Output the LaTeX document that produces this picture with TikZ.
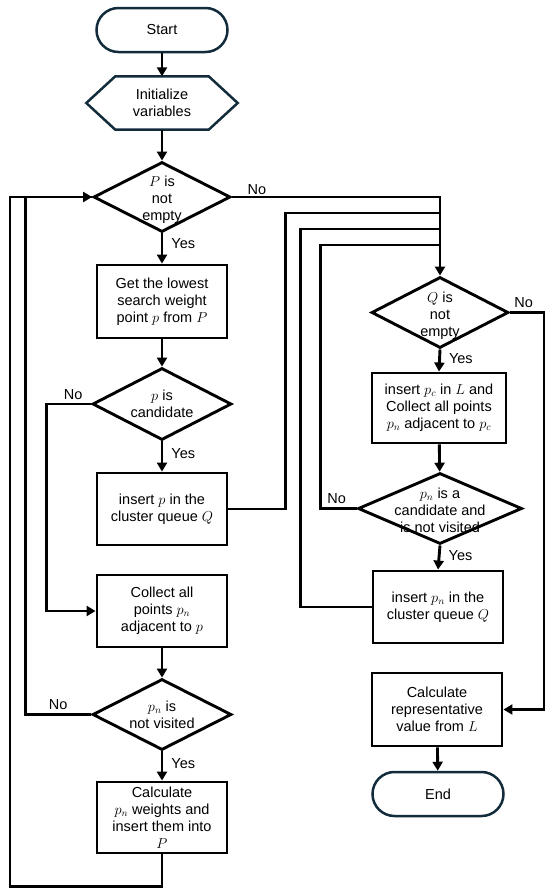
\documentclass[tikz,border=0pt]{standalone}
\usepackage{fontspec}
\setmainfont{Liberation Sans}
\usetikzlibrary{arrows.meta,shapes.geometric,calc}
\definecolor{navy}{RGB}{18,44,60}
\begin{document}
\begin{tikzpicture}[x=1pt,y=-1pt,
  every node/.style={font=\fontsize{14.5}{17}\selectfont, align=center},
  ln/.style={line width=2.9pt, line join=miter},
  arr/.style={ln, -{Triangle[length=9pt,width=10pt]}},
  proc/.style={draw, line width=2.9pt, minimum width=130pt, minimum height=72pt, inner sep=0pt},
  term/.style={draw=navy, line width=2.5pt, rounded corners=22pt, minimum width=131pt, minimum height=44pt, inner sep=0pt},
  dec/.style={draw, diamond, line width=2.9pt, inner sep=0pt},
  lbl/.style={font=\fontsize{14.5}{17}\selectfont, inner sep=1pt},
  yes/.style={lbl, right, pos=0.4, xshift=7pt}]
\useasboundingbox (0,0) rectangle (550,892);
% left column
\node[term] (start) at (162,30) {Start};
\node[minimum width=151pt, minimum height=53pt, inner sep=0pt] (init) at (162,103) {Initialize\\variables};
\draw[draw=navy, line width=2.5pt, line join=miter] (init.west) -- ([xshift=29pt]init.north west) -- ([xshift=-29pt]init.north east) -- (init.east) -- ([xshift=-29pt]init.south east) -- ([xshift=29pt]init.south west) -- cycle;
\node[dec, minimum width=137pt, minimum height=70pt, label={[lbl, align=center, yshift=-3pt]center:{$P$ is\\not\\empty}}] (pdec) at (162,197) {};
\node[proc, minimum height=73pt] (get) at (162,301.5) {Get the lowest\\search weight\\point $p$ from $P$};
\node[dec, minimum width=139pt, minimum height=72pt, label={[lbl, align=center]center:{$p$ is\\candidate}}] (cdec) at (162,404) {};
\node[proc] (insp) at (162,509) {insert $p$ in the\\cluster queue $Q$};
\node[proc] (coll) at (162,611) {Collect all\\points $p_n$\\adjacent to $p$};
\node[dec, minimum width=139pt, minimum height=71pt, label={[lbl, align=center]center:{$p_n$ is\\not visited}}] (vdec) at (162,714.5) {};
\node[proc, minimum height=71pt] (calc) at (162,817.5) {Calculate\\$p_n$ weights and\\insert them into\\$P$};
% right column
\node[dec, minimum width=137pt, minimum height=71pt, label={[lbl, align=center, yshift=-3pt]center:{$Q$ is\\not\\empty}}] (qdec) at (440,312.5) {};
\node[proc, minimum width=134pt, minimum height=70pt] (ipc) at (439,408) {insert $p_c$ in $L$ and\\Collect all points\\$p_n$ adjacent to $p_c$};
\node[dec, minimum width=164pt, minimum height=71pt, label={[lbl, align=center, yshift=-2pt]center:{$p_n$ is a\\candidate and\\is not visited}}] (ndec) at (440,508.5) {};
\node[proc] (ipn) at (438,607) {insert $p_n$ in the\\cluster queue $Q$};
\node[proc, minimum height=73pt] (rep) at (437,709.5) {Calculate\\representative\\value from $L$};
\node[term] (end) at (438,794) {End};
% junction points
\coordinate (j1) at (440,213);
\coordinate (j2) at (440,229);
\coordinate (j3) at (440,245);
% connectors
\draw[arr] (start) -- (init);
\draw[arr] (init) -- (pdec);
\draw[arr] (pdec.east) -| node[lbl, pos=0.06, above] {No} (qdec.north);
\draw[arr] (pdec.south) -- node[yes, pos=0.35] {Yes} (get.north);
\draw[arr] (get) -- (cdec);
\draw[arr] (cdec.south) -- node[yes] {Yes} (insp.north);
\draw[arr] (cdec.west) -- node[lbl, above, pos=0.4, yshift=2pt] {No} ++(-45,0) |- (coll.west);
\draw[ln] (insp.east) -- ++(57,0) |- (j1);
\draw[arr] (coll) -- (vdec);
\draw[arr] (vdec.south) -- node[yes] {Yes} (calc.north);
\draw[ln] (vdec.west) -- node[lbl, above, pos=0.5, yshift=2pt] {No} ++(-66,0) |- (pdec.west);
\draw[arr] (calc.south) -- ++(0,32) -| ++(-152,-100) |- (pdec.west);
\draw[arr] (qdec.south) -- node[yes] {Yes} (ipc.north);
\draw[arr] (qdec.east) -- node[lbl, above, pos=0.4, yshift=2pt] {No} ++(34,0) |- (rep.east);
\draw[arr] (ipc) -- (ndec);
\draw[ln] (ndec.west) -- node[lbl, above, pos=0.55, yshift=2pt] {No} ++(-36,0) |- (j3);
\draw[arr] (ndec.south) -- node[yes] {Yes} (ipn.north);
\draw[ln] (ipn.west) -- ++(-71,0) |- (j2);
\draw[arr] (rep) -- (end);
\end{tikzpicture}
\end{document}
